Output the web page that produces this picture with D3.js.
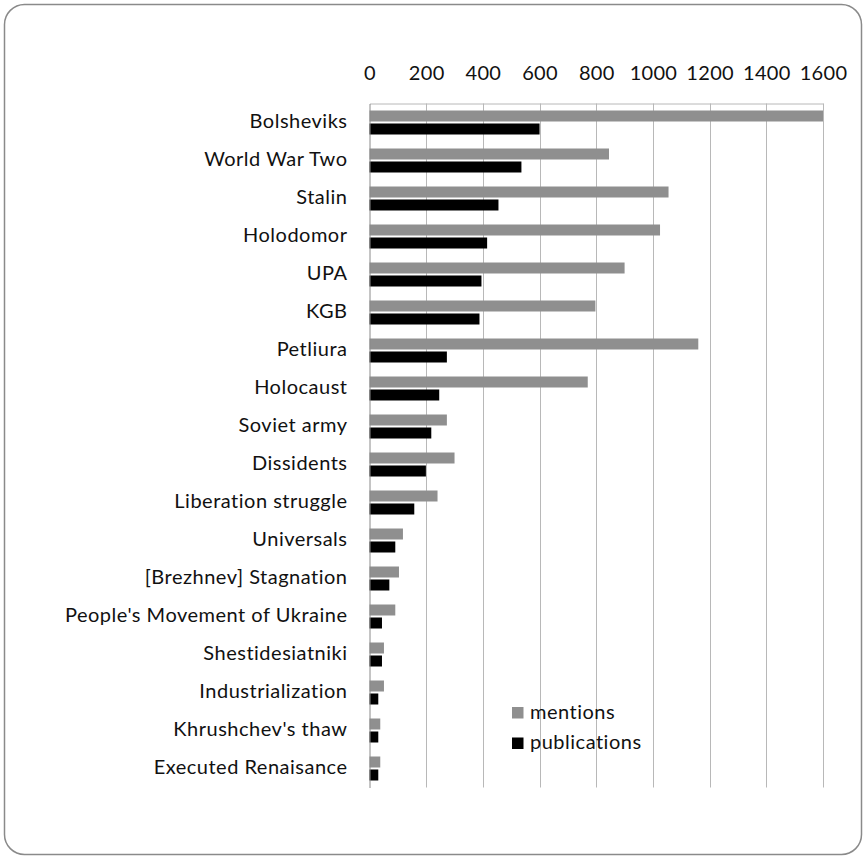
<!DOCTYPE html>
<html>
<head>
<meta charset="utf-8">
<script src="https://cdn.jsdelivr.net/npm/d3@7"></script>
<style>
  html, body { margin: 0; padding: 0; background: #fff; }
  svg { display: block; }
  text { font-family: Lato, "Open Sans", sans-serif; fill: #111; }
</style>
</head>
<body>
<svg id="chart" width="865" height="856"></svg>
<script>
// Topics, ordered by number of publications
const categories = [
  "Bolsheviks", "World War Two", "Stalin", "Holodomor", "UPA", "KGB",
  "Petliura", "Holocaust", "Soviet army", "Dissidents", "Liberation struggle",
  "Universals", "[Brezhnev] Stagnation", "People's Movement of Ukraine",
  "Shestidesiatniki", "Industrialization", "Khrushchev's thaw", "Executed Renaisance"
];
const mentions = [1600, 845, 1055, 1025, 900, 797, 1160, 770, 273, 300, 240, 118, 104, 91, 51, 51, 38, 38];
const publications = [600, 536, 455, 415, 395, 388, 273, 246, 218, 199, 158, 91, 70, 44, 44, 31, 31, 31];
const seriesNames = ["mentions", "publications"];
const seriesColors = ["#8f8f8f", "#000000"];
const ticks = [0, 200, 400, 600, 800, 1000, 1200, 1400, 1600];

const FONT = "Lato, 'Open Sans', sans-serif";
const svg = d3.select("#chart");

// outer rounded frame
svg.append("rect")
  .attr("x", 4.5).attr("y", 4.5)
  .attr("width", 857).attr("height", 850)
  .attr("rx", 20).attr("ry", 20)
  .attr("fill", "#fff").attr("stroke", "#8a8a8a").attr("stroke-width", 1.5);

const plot = { left: 369.5, right: 823, top: 103.5, bottom: 787.5 };

const x = d3.scaleLinear().domain([0, 1600]).range([plot.left, plot.right]);
const y = d3.scaleBand().domain(categories).range([plot.top, plot.bottom])
  .paddingInner(0).paddingOuter(0);
const ySeries = d3.scaleBand().domain(seriesNames).range([0, y.bandwidth()])
  .paddingInner(2 / 13).paddingOuter(7 / 13);

// vertical gridlines
svg.append("g")
  .selectAll("line").data(ticks.slice(1)).join("line")
  .attr("x1", d => Math.round(x(d)) + 0.5).attr("x2", d => Math.round(x(d)) + 0.5)
  .attr("y1", plot.top).attr("y2", plot.bottom)
  .attr("stroke", "#b8b8b8").attr("stroke-width", 1);

// top value axis
const xAxis = d3.axisTop(x).tickValues(ticks).tickSize(0).tickPadding(24).tickFormat(d3.format("d"));
const gx = svg.append("g").attr("transform", `translate(0,${plot.top})`).call(xAxis);
gx.select(".domain").attr("stroke", "#b8b8b8");
gx.selectAll("text").style("font-size", "20px").style("letter-spacing", "0.3px")
  .attr("fill", "#111").style("font-family", FONT);

// bars
const rows = categories.map((c, i) => ({ cat: c, values: [mentions[i], publications[i]] }));
const groups = svg.append("g").selectAll("g").data(rows).join("g")
  .attr("transform", d => `translate(0,${y(d.cat)})`);
groups.selectAll("rect")
  .data(d => d.values.map((v, k) => ({ v, k })))
  .join("rect")
  .attr("x", x(0))
  .attr("y", d => ySeries(seriesNames[d.k]))
  .attr("width", d => x(d.v) - x(0))
  .attr("height", ySeries.bandwidth())
  .attr("fill", d => seriesColors[d.k]);

// category axis on the left
const yAxis = d3.axisLeft(y).tickSize(0).tickPadding(22);
const gy = svg.append("g").attr("transform", `translate(${plot.left},0)`).call(yAxis);
gy.select(".domain").attr("stroke", "#8a8a8a");
gy.selectAll("text").attr("dy", "0.26em")
  .style("font-size", "20px").style("letter-spacing", "0.5px")
  .attr("fill", "#111").style("font-family", FONT);

// legend
const legend = svg.append("g").attr("transform", "translate(512,707)");
seriesNames.forEach((name, i) => {
  const row = legend.append("g").attr("transform", `translate(0,${i * 30.5})`);
  row.append("rect").attr("width", 11.5).attr("height", 11.5).attr("fill", seriesColors[i]);
  row.append("text").attr("x", 18).attr("y", 11.5)
    .style("font-size", "20px").style("letter-spacing", "0.5px").text(name);
});
</script>
</body>
</html>
